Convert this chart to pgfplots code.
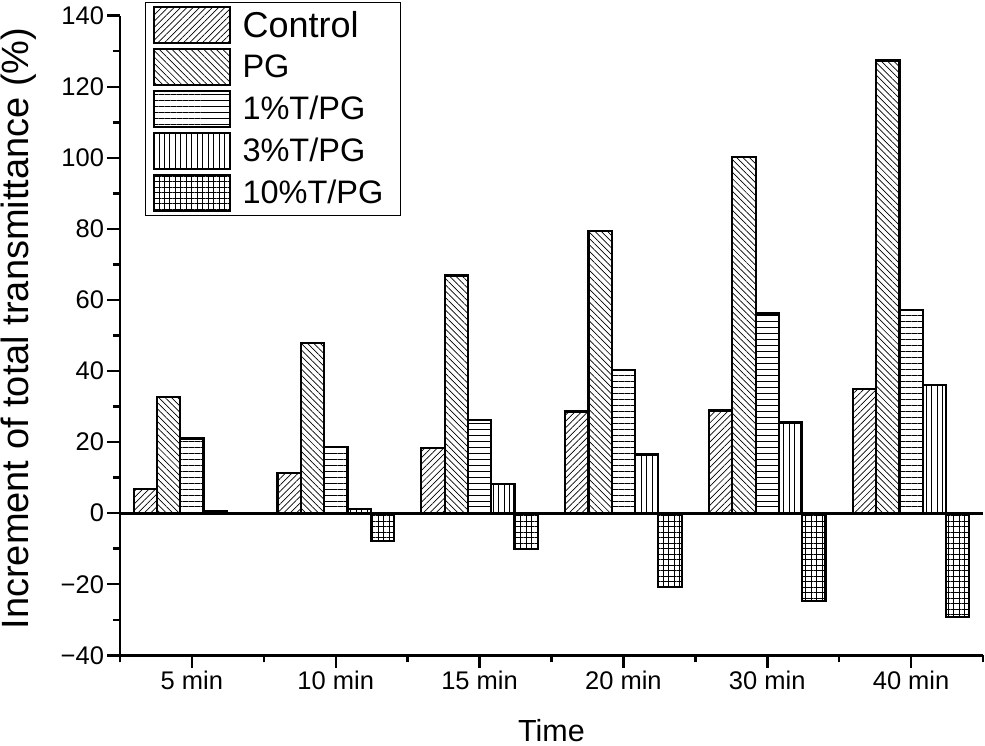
\documentclass[border=0pt]{standalone}
\usepackage{fontspec}
\setmainfont{Liberation Sans}
\usepackage{pgfplots}
\pgfplotsset{compat=1.18}
\usetikzlibrary{patterns.meta}
\begin{document}
\begin{tikzpicture}
\pgfplotsset{
  mylegend/.style={legend image code/.code={%
    \path (-3.5bp,0bp);
    \draw[##1, line width=2bp] (0bp,-18bp) rectangle (76bp,18bp);}},
}
\begin{axis}[
  scale only axis,
  width=863bp, height=639.6bp,
  xmin=-0.5, xmax=5.5, ymin=-40, ymax=140,
  enlargelimits=false,
  axis x line=bottom, axis y line=left,
  axis line style={line width=2.8bp, -},
  tick align=outside,
  major tick length=12.5bp, minor tick length=7bp,
  tick style={line width=2.5bp, black},
  xtick={0,1,2,3,4,5},
  xticklabels={5 min,10 min,15 min,20 min,30 min,40 min},
  minor xtick={-0.5,0.5,1.5,2.5,3.5,4.5,5.5},
  ytick={-40,-20,0,20,40,60,80,100,120,140},
  yticklabels={−40,−20,0,20,40,60,80,100,120,140},
  minor ytick={-30,-10,10,30,50,70,90,110,130},
  ticklabel style={font=\fontsize{25.5bp}{30bp}\selectfont},
  /pgf/number format/assume math mode=true,
  extra y ticks={0},
  extra y tick labels={},
  extra y tick style={grid=major, major grid style={line width=2.8bp, black}, major tick length=0bp},
  xlabel={Time},
  xlabel style={font=\fontsize{30.5bp}{34bp}\selectfont, at={(axis description cs:0.5,-0.1176)}, anchor=center, inner sep=0bp},
  ylabel={Increment of total transmittance (\%)},
  ylabel style={font=\fontsize{38bp}{44bp}\selectfont, at={(axis description cs:-0.117,0.511)}, anchor=center, inner sep=0bp},
  ybar=0bp, bar width=23.3bp,
  legend style={at={(rel axis cs:0.029,1.0214)}, anchor=north west,
    draw=black, line width=0.8bp, inner sep=3.5bp,
    font=\fontsize{32.5bp}{36bp}\selectfont,
    nodes={inner sep=1bp, text width=153bp},
    row sep=4bp,
    /tikz/every odd column/.append style={column sep=11bp},
    legend cell align=left},
]
\addplot[draw=black, line width=2.2bp, pattern={Lines[angle=45,distance=4.5pt,line width=0.7pt]}, mylegend]
  coordinates {(0,6.8) (1,11.3) (2,18.4) (3,28.6) (4,28.9) (5,35.0)};
\addlegendentry{\fontsize{36bp}{38bp}\selectfont Control}
\addplot[draw=black, line width=2.2bp, pattern={Lines[angle=-45,distance=4.5pt,line width=0.7pt]}, mylegend]
  coordinates {(0,32.6) (1,47.9) (2,66.9) (3,79.4) (4,100.3) (5,127.4)};
\addlegendentry{PG}
\addplot[draw=black, line width=2.2bp, pattern={Lines[angle=0,distance=6pt,line width=0.8pt]}, mylegend]
  coordinates {(0,21.0) (1,18.7) (2,26.3) (3,40.2) (4,56.2) (5,57.1)};
\addlegendentry{1\%T/PG}
\addplot[draw=black, line width=2.2bp, pattern={Lines[angle=90,distance=5.5pt,line width=0.8pt]}, mylegend]
  coordinates {(0,0.5) (1,1.2) (2,8.1) (3,16.5) (4,25.5) (5,36.0)};
\addlegendentry{3\%T/PG}
\addplot[draw=black, line width=2.2bp, pattern={Hatch[distance=5.5pt,line width=0.8pt]}, mylegend]
  coordinates {(0,0.0) (1,-7.9) (2,-10.1) (3,-20.7) (4,-24.8) (5,-29.3)};
\addlegendentry{10\%T/PG}
\end{axis}
\pgfresetboundingbox
\path (-120bp,-90.7bp) rectangle (865bp,655.3bp);
\end{tikzpicture}
\end{document}
